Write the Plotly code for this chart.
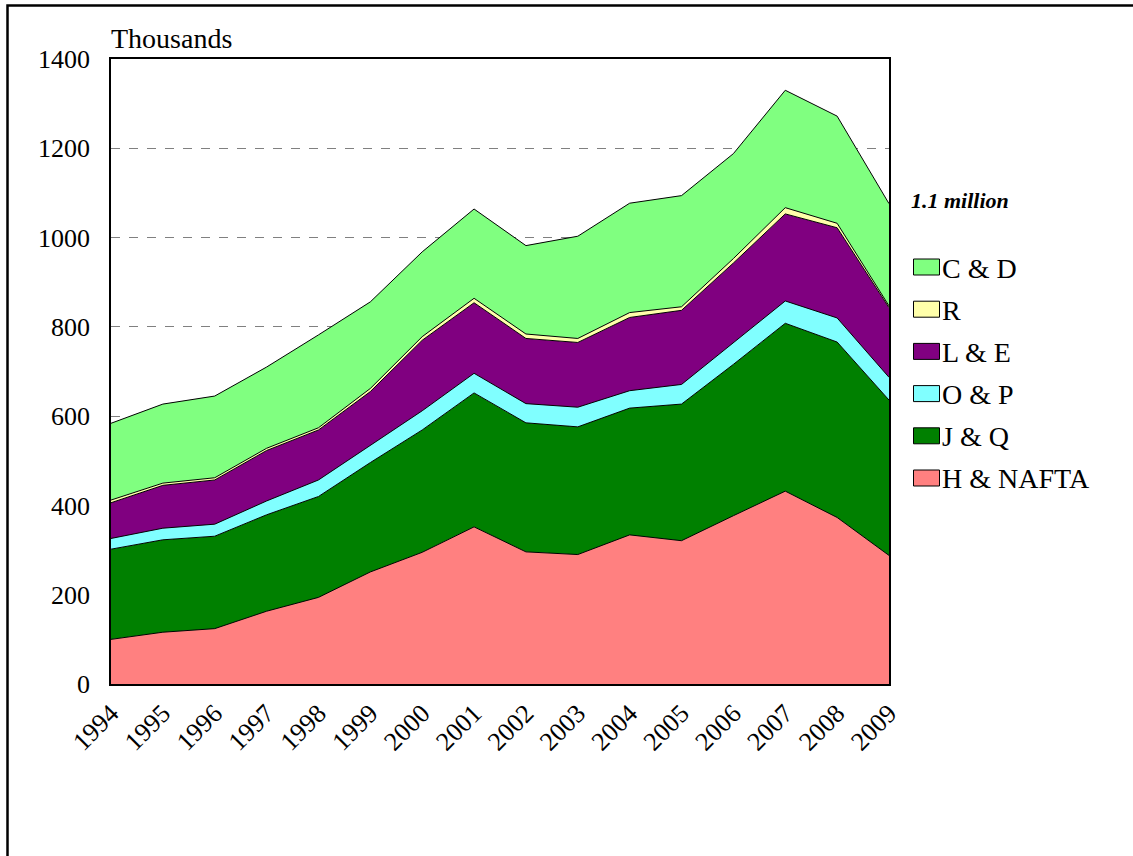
import plotly.graph_objects as go

years = list(range(1994, 2010))
year_labels = [str(y) for y in years]

h_nafta = [100, 116, 124, 163, 194, 251, 295, 352, 296, 290, 334, 321, 377, 432, 373, 288]
j_q = [202, 207, 207, 216, 226, 245, 274, 300, 289, 286, 284, 306, 339, 376, 393, 348]
o_p = [24, 26, 27, 31, 37, 38, 43, 44, 43, 44, 39, 44, 48, 50, 54, 51]
l_e = [80, 96, 99, 113, 112, 121, 158, 158, 146, 145, 164, 166, 179, 195, 202, 156]
r_vals = [6, 5, 5, 5, 5, 7, 8, 10, 10, 9, 11, 8, 10, 14, 10, 4]
c_d = [172, 177, 183, 182, 208, 194, 190, 200, 198, 229, 245, 249, 235, 263, 240, 229]

series = [
    ("H & NAFTA", h_nafta, "#FF8080"),
    ("J & Q", j_q, "#008000"),
    ("O & P", o_p, "#80FFFF"),
    ("L & E", l_e, "#800080"),
    ("R", r_vals, "#FFFFAA"),
    ("C & D", c_d, "#80FF80"),
]

FONT = "Liberation Serif, Times New Roman, serif"

W, H = 1133, 856
ML, MT = 111, 59
PW, PH = 778, 625

fig = go.Figure()
for name, vals, color in series:
    fig.add_trace(go.Scatter(
        x=years, y=vals, name=name, mode="lines",
        stackgroup="one", fillcolor=color,
        line=dict(color="black", width=1),
        showlegend=False,
        hoverinfo="x+y+name",
    ))

def px_x(x):
    return (x - ML) / PW
def px_y(y):
    return (MT + PH - y) / PH

shapes = []
annotations = []

# legend drawn as shapes + text, top item = last series
legend_top_center = 267
legend_step = 42.2
for i, (name, vals, color) in enumerate(reversed(series)):
    yc = legend_top_center + i * legend_step
    shapes.append(dict(type="rect", xref="paper", yref="paper",
                       x0=px_x(913.5), x1=px_x(939.5), y0=px_y(yc + 8), y1=px_y(yc - 8),
                       line=dict(color="black", width=1), fillcolor=color, layer="above"))
    annotations.append(dict(text=name, xref="paper", yref="paper", x=px_x(940), y=px_y(yc + 1),
                            xanchor="left", yanchor="middle", showarrow=False,
                            font=dict(family=FONT, size=28)))

annotations.append(dict(text="Thousands", xref="paper", yref="paper", x=px_x(109), y=px_y(39),
                        xanchor="left", yanchor="middle", showarrow=False,
                        font=dict(family=FONT, size=28)))
annotations.append(dict(text="<b><i>1.1 million</i></b>", xref="paper", yref="paper",
                        x=px_x(909), y=px_y(200),
                        xanchor="left", yanchor="middle", showarrow=False,
                        font=dict(family=FONT, size=22)))

# outer frame (right and bottom edges lie beyond the page)
shapes.append(dict(type="rect", xref="paper", yref="paper",
                   x0=px_x(7.5), y0=px_y(900), x1=px_x(1200), y1=px_y(5.5),
                   line=dict(color="black", width=2.5), fillcolor="rgba(0,0,0,0)", layer="above"))

fig.update_layout(
    width=W, height=H,
    margin=dict(l=ML, r=W - ML - PW, t=MT, b=H - MT - PH, pad=0),
    paper_bgcolor="white", plot_bgcolor="white",
    font=dict(family=FONT, size=26, color="black"),
    showlegend=False,
    xaxis=dict(
        range=[1994, 2009], tickmode="array", tickvals=years, ticktext=year_labels,
        tickangle=-45, showgrid=False, zeroline=False,
        showline=True, linecolor="black", linewidth=1.5, mirror=True,
        ticks="", ticklabelstandoff=2, tickfont=dict(family=FONT, size=26),
    ),
    yaxis=dict(
        range=[0, 1400], dtick=200, tick0=0,
        showgrid=True, gridcolor="#808080", griddash="dash", gridwidth=1,
        zeroline=False, showline=True, linecolor="black", linewidth=1.5, mirror=True,
        ticks="", ticklabelstandoff=14, tickfont=dict(family=FONT, size=26),
    ),
    annotations=annotations,
    shapes=shapes,
)

fig.write_html(
    "out.html",
    config={"displayModeBar": False},
    post_script="document.body.style.margin='0';document.body.style.overflow='hidden';",
)
